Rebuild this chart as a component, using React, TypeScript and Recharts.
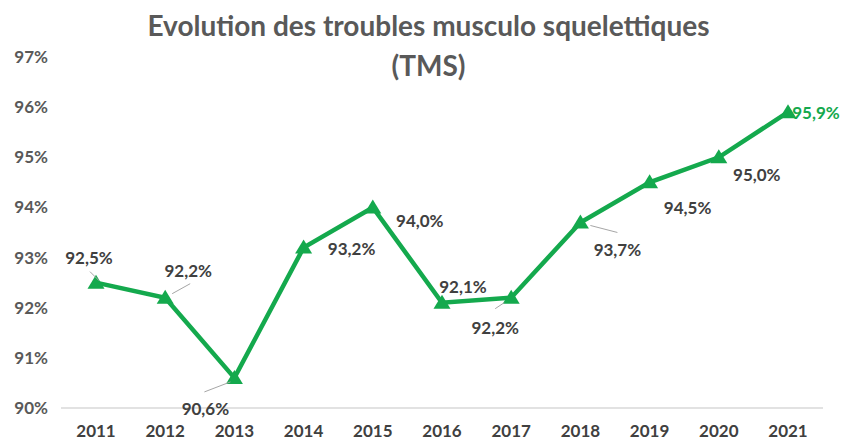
import { Line, LineChart, XAxis, YAxis } from "recharts";

const years = ["2011", "2012", "2013", "2014", "2015", "2016", "2017", "2018", "2019", "2020", "2021"];
const tmsRate = [92.5, 92.2, 90.6, 93.2, 94.0, 92.1, 92.2, 93.7, 94.5, 95.0, 95.9];
const yTicks = [90, 91, 92, 93, 94, 95, 96, 97];

// label placement relative to each point (dx, dy) and optional leader line end
const labelOffsets: [number, number][] = [
  [-7, -25], [23, -27], [-29, 31], [48, 1], [47, 13], [21, -16], [-16, 30], [37, 27], [38, 25], [38, 17], [28, 0],
];
const leaders: ([number, number, number, number] | null)[] = [
  [-6, -11, 3, -2], [7, -4, 25, -14], [-30, 14, -4, 4], null, null, null, [-16, 11, -7, 5], [10, 3, 37, 10], null, null, null,
];

const data = years.map((year, i) => ({ year, value: tmsRate[i] }));
const GREEN = "#14a94d";
const fmt = (v: number) => v.toFixed(1).replace(".", ",") + "%";

function Triangle(props: any) {
  const { cx, cy, index } = props;
  if (cx == null || cy == null) return null;
  return (
    <polygon
      key={`tri-${index}`}
      points={`${cx},${cy - 8} ${cx + 8.5},${cy + 6} ${cx - 8.5},${cy + 6}`}
      fill={GREEN}
    />
  );
}

function PointLabel(props: any) {
  const { x, y, value, index } = props;
  const [dx, dy] = labelOffsets[index];
  const lead = leaders[index];
  const last = index === tmsRate.length - 1;
  return (
    <g key={`lbl-${index}`}>
      {lead && (
        <line x1={x + lead[0]} y1={y + lead[1]} x2={x + lead[2]} y2={y + lead[3]} stroke="#a6a6a6" strokeWidth={1} />
      )}
      <text
        x={x + dx}
        y={y + dy}
        textAnchor="middle"
        dominantBaseline="central"
        fontFamily="Lato"
        fontWeight={700}
        fontSize={17}
        fill={last ? GREEN : "#404040"}
      >
        {fmt(value)}
      </text>
    </g>
  );
}

export default function App() {
  return (
    <div style={{ position: "absolute", left: 0, top: 0, width: 849, height: 443, background: "#fff" }}>
      <div
        style={{
          position: "absolute",
          left: 4,
          width: 849,
          top: 5,
          textAlign: "center",
          fontFamily: "Lato",
          fontWeight: 700,
          fontSize: 28,
          lineHeight: "40px",
          color: "#595959",
        }}
      >
        Evolution des troubles musculo squelettiques
        <br />
        (TMS)
      </div>
      <LineChart width={849} height={443} data={data} margin={{ top: 57, right: 26, bottom: 0, left: 0 }}>
        <XAxis
          dataKey="year"
          height={35}
          padding={{ left: 35, right: 35 }}
          axisLine={{ stroke: "#d9d9d9", strokeWidth: 1.5 }}
          tickLine={false}
          tickMargin={11}
          tick={{ fill: "#404040", fontFamily: "Lato", fontWeight: 700, fontSize: 17 }}
        />
        <YAxis
          width={61}
          domain={[90, 97]}
          ticks={yTicks}
          axisLine={false}
          tickLine={false}
          tickMargin={7}
          tickFormatter={(v: number) => `${v}%`}
          tick={{ fill: "#595959", fontFamily: "Lato", fontWeight: 700, fontSize: 17 }}
        />
        <Line
          dataKey="value"
          stroke={GREEN}
          strokeWidth={4.5}
          dot={<Triangle />}
          activeDot={false}
          label={<PointLabel />}
          isAnimationActive={false}
        />
      </LineChart>
    </div>
  );
}
